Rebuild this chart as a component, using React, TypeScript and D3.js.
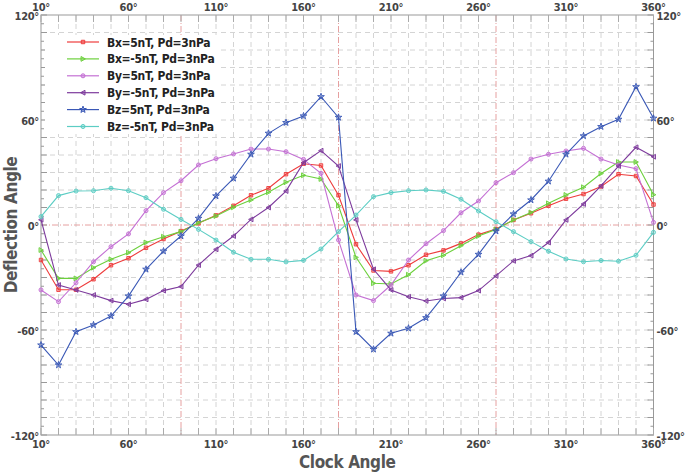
import React from 'react';
import * as d3 from 'd3';

const width = 685;
const height = 473;
const margin = { top: 15, right: 31.5, bottom: 38, left: 41 };

// clock angle categories
const angles = [10, 20, 30, 40, 50, 60, 70, 80, 90, 100, 110, 120, 130, 140, 150, 160, 170, 180,
  190, 200, 210, 220, 230, 240, 250, 260, 270, 280, 290, 300, 310, 320, 330, 340, 350, 360];

const bxPos = [-20, -37, -37, -31, -23, -19, -13, -8, -3.5, 1, 5.5, 11, 17, 21, 29, 35, 34, 17,
  -11, -26, -26.5, -23, -17, -14.5, -10.5, -5.5, -2.3, 2.9, 6.7, 11, 15, 17.7, 22, 29, 28, 11.7];
const bxNeg = [-14.3, -30.5, -30.5, -24.4, -19.6, -15.8, -10, -6.7, -3.8, 1.3, 5.1, 10.1, 14.3, 18.7, 24.4, 28.4, 26.3, 11,
  -18.5, -33.3, -33.7, -28.4, -20.4, -17.3, -11.8, -6.3, -2.5, 2.9, 7.2, 12.4, 17.2, 21.6, 29.4, 36, 36, 17.3];
const byPos = [-37.1, -43.8, -33, -21, -12.4, -5.1, 8.2, 18.5, 25.3, 34.3, 37.9, 40.6, 43.4, 43.4, 41.9, 37.5, 29.5, -8.6,
  -40, -43.2, -34.3, -20, -10.7, -3.2, 7, 13.7, 24.2, 29.9, 37.7, 40.4, 42.3, 43.8, 37.7, 34.3, 32.2, 1.5];
const byNeg = [3, -34.3, -37.1, -40, -43.2, -45.3, -42.5, -37.5, -35.2, -22.9, -13.9, -6.3, 3.2, 10, 19.4, 35.6, 42.5, 33.7,
  2.9, -25.3, -37.1, -41, -43.4, -42, -41.5, -37.5, -29.1, -20.5, -17.5, -10, 2.9, 12, 22.3, 33.7, 44.4, 39];
const bzPos = [-68.6, -80, -61, -57.1, -52, -40.6, -25.3, -14.9, -6.3, 3.8, 16.6, 26.7, 40.4, 52.4, 58.5, 62.3, 73.3, 61.5,
  -61, -71, -61.9, -59, -53, -40.6, -27, -16.8, -3.5, 6.3, 14.3, 25, 40.4, 50.9, 56.2, 60.4, 79, 61];
const bzNeg = [4.8, 16.8, 19.4, 19.6, 21, 19.6, 15.6, 9, 3.2, -2.5, -8.6, -15.6, -19.6, -19.6, -21.1, -20.2, -13.7, -3.8,
  5.7, 16.2, 18.5, 19.6, 20, 19.2, 14.7, 8, 1.9, -3.8, -9.5, -15, -19.4, -21, -20.3, -20.7, -17.3, -4.2];

const seriesNames = ['Bx=5nT, Pd=3nPa', 'Bx=-5nT, Pd=3nPa', 'By=5nT, Pd=3nPa', 'By=-5nT, Pd=3nPa', 'Bz=5nT, Pd=3nPa', 'Bz=-5nT, Pd=3nPa'];
const seriesValues = [bxPos, bxNeg, byPos, byNeg, bzPos, bzNeg];
const seriesColors = ['#ee3b3b', '#6cd03c', '#c470d4', '#7d3a9c', '#3a58b6', '#5ccdc4'];
const seriesMarkers = ['square', 'triRight', 'circle', 'triLeft', 'star', 'circle'];

const xTicks = [10, 60, 110, 160, 210, 260, 310, 360];
const yTicks = [-120, -60, 0, 60, 120];

const font = '"DejaVu Sans Condensed", "DejaVu Sans", sans-serif';

const x = d3.scaleLinear().domain([10, 360]).range([margin.left, width - margin.right]);
const y = d3.scaleLinear().domain([-120, 120]).range([height - margin.bottom, margin.top]);

function markerPath(type) {
  if (type === 'square') return d3.symbol(d3.symbolSquare, 12)();
  if (type === 'circle') return d3.symbol(d3.symbolCircle, 13)();
  if (type === 'star') return d3.symbol(d3.symbolStar, 14)();
  if (type === 'triRight') return 'M-2,-2.4L2.4,0L-2,2.4Z';
  return 'M2,-2.4L-2.4,0L2,2.4Z';
}

export default function App() {
  const line = d3.line().x(d => x(d[0])).y(d => y(d[1]));
  const gridX = d3.range(20, 360, 10).filter(v => v % 90 !== 0);
  const gridY = d3.range(-110, 120, 10).filter(v => v !== 0);
  const minorY = d3.range(-120, 121, 5);
  const minorX = d3.range(10, 361, 10);
  const x0 = x(10), x1 = x(360), y0 = y(120), y1 = y(-120);

  return (
    <svg width={width} height={height} style={{ position: 'absolute', left: 0, top: 0, background: '#fff' }}>
      <g>
        {gridX.map(v => (
          <line key={'gx' + v} x1={x(v)} x2={x(v)} y1={y0} y2={y1} stroke="#d4d4d4" strokeDasharray="5,4" />
        ))}
        {gridY.map(v => (
          <line key={'gy' + v} x1={x0} x2={x1} y1={y(v)} y2={y(v)} stroke="#d4d4d4" strokeDasharray="5,4" />
        ))}
        {[90, 180, 270].map(v => (
          <line key={'rx' + v} x1={x(v)} x2={x(v)} y1={y0} y2={y1} stroke="#e6a0a0" strokeDasharray="6,2,1,2" />
        ))}
        <line x1={x0} x2={x1} y1={y(0)} y2={y(0)} stroke="#e6a0a0" strokeDasharray="6,2,1,2" />
      </g>

      {/* frame + ticks */}
      <rect x={x0} y={y0} width={x1 - x0} height={y1 - y0} fill="none" stroke="#999" />
      {minorY.map(v => {
        const len = v % 10 === 0 ? 6 : 3;
        return (
          <g key={'ty' + v} stroke="#999">
            <line x1={x0} x2={x0 + len} y1={y(v)} y2={y(v)} />
            <line x1={x1} x2={x1 - len} y1={y(v)} y2={y(v)} />
          </g>
        );
      })}
      {minorX.map(v => (
        <g key={'tx' + v} stroke="#aaa">
          <line x1={x(v)} x2={x(v)} y1={y0} y2={y0 + 7} />
          <line x1={x(v)} x2={x(v)} y1={y1} y2={y1 - 7} />
        </g>
      ))}

      {/* series */}
      {seriesValues.map((vals, i) => {
        const pts = angles.map((a, j) => [a, vals[j]]);
        const p = markerPath(seriesMarkers[i]);
        return (
          <g key={'s' + i}>
            <path d={line(pts)} fill="none" stroke={seriesColors[i]} strokeWidth={1.1} />
            {pts.map((d, j) => (
              <path key={j} d={p} transform={`translate(${x(d[0])},${y(d[1])})`}
                fill={seriesColors[i]} fillOpacity={0.4} stroke={seriesColors[i]} strokeWidth={0.9} />
            ))}
          </g>
        );
      })}

      {/* tick labels */}
      <g fontFamily={font} fontSize={11} fill="#444" fontWeight="bold" letterSpacing={-0.3}>
        {xTicks.map(v => (
          <text key={'xt' + v} x={x(v)} y={y0 - 4} textAnchor="middle">{v}°</text>
        ))}
        {xTicks.map(v => (
          <text key={'xb' + v} x={x(v)} y={y1 + 13} textAnchor="middle">{v}°</text>
        ))}
        {yTicks.map(v => (
          <text key={'yl' + v} x={x0 - 2} y={y(v) + 5} textAnchor="end">{v}°</text>
        ))}
        {yTicks.map(v => (
          <text key={'yr' + v} x={x1 + 3} y={y(v) + 5} textAnchor="start">{v}°</text>
        ))}
      </g>

      {/* axis titles */}
      <text x={(x0 + x1) / 2} y={468} textAnchor="middle" fontFamily={font} fontSize={17} fontWeight="bold" fill="#555" letterSpacing={-0.4}>Clock Angle</text>
      <text transform={`translate(17,${(y0 + y1) / 2}) rotate(-90)`} textAnchor="middle" fontFamily={font} fontSize={17} fontWeight="bold" fill="#555" letterSpacing={-0.4}>Deflection Angle</text>

      {/* legend */}
      <g>
        <rect x={x0 + 4} y={35} width={173} height={99} fill="#fff" />
        {seriesNames.map((name, i) => {
          const ly = 42 + i * 16.9;
          return (
            <g key={'l' + i}>
              <line x1={67} x2={99} y1={ly} y2={ly} stroke={seriesColors[i]} strokeWidth={1.2} />
              <path d={markerPath(seriesMarkers[i])} transform={`translate(83,${ly})`}
                fill={seriesColors[i]} fillOpacity={0.4} stroke={seriesColors[i]} />
              <text x={107} y={ly + 4.5} fontFamily={font} fontSize={12} fontWeight="bold" fill="#222" letterSpacing={-0.3}>{name}</text>
            </g>
          );
        })}
      </g>
    </svg>
  );
}
